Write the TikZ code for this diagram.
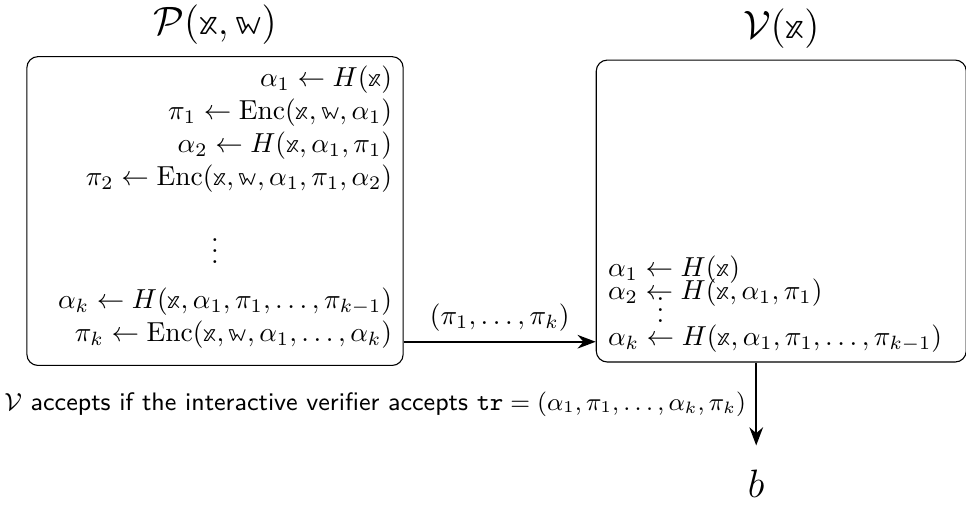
\documentclass[tikz,border=0pt]{standalone}
\usepackage{amsmath, amssymb}
\usepackage{fontspec}
\usepackage{tikz}
\usetikzlibrary{arrows.meta, positioning, calc}
\newfontface\dsface{latinmodern-math.otf}
\newcommand{\inst}{\mathord{\text{\dsface\char"1D569}}}
\newcommand{\wit}{\mathord{\text{\dsface\char"1D568}}}
\newcommand{\Enc}{\mathrm{Enc}}

\begin{document}
\begin{tikzpicture}[>=Stealth, node distance=1.0cm, box/.style={draw, rectangle, rounded corners=4pt, minimum width=4.81cm, minimum height=3.86cm}, flow/.style={->, thick}]
        \useasboundingbox (0,0) rectangle (12.35,-6.57);
        \node[box, text width=4.53cm, align=flush right, inner xsep=0.14cm] (prover) at (2.749,-2.698) {%
          $\alpha_1 \leftarrow H(\inst)$\\
          $\pi_1 \leftarrow \Enc(\inst, \wit, \alpha_1)$\\
          $\alpha_2 \leftarrow H(\inst, \alpha_1, \pi_1)$\\
          $\pi_2 \leftarrow \Enc(\inst, \wit, \alpha_1, \pi_1, \alpha_2)$\\[10pt]
          \hfill$\vdots$\hfill\null\\[4.2pt]
          $\alpha_k \leftarrow H(\inst, \alpha_1, \pi_1, \ldots, \pi_{k-1})$\\
          $\pi_k \leftarrow \Enc(\inst, \wit, \alpha_1, \ldots, \alpha_k)$\rule[-5.4pt]{0pt}{1pt}};
        \node[box, minimum width=4.73cm, right=2.455cm of prover] (verifier) {};
        \node[anchor=south west, inner sep=0pt, align=left] (vlines) at ($(verifier.south west)+(0.15,0.12)$) {%
          $\alpha_1 \leftarrow H(\inst)$\\[-3.6pt]
          $\alpha_2 \leftarrow H(\inst, \alpha_1, \pi_1)$\\[-3.6pt]
          $\phantom{\alpha_k}\mathrel{\smash{\ooalign{$\phantom{\leftarrow}$\cr\hfil$\vdots$\hfil\cr}}}$\\[-3.6pt]
          $\alpha_k \leftarrow H(\inst, \alpha_1, \pi_1, \ldots, \pi_{k-1})$};
        \node[above=0.14cm of prover, font=\Large, inner sep=0pt] (ptitle) {$\mathcal{P}(\inst, \wit)$};
        \node[above=0.14cm of verifier, font=\Large, inner sep=0pt] (vtitle) {$\mathcal{V}(\inst)$};
        \coordinate (send) at ($(prover.south east)+(0,0.31)$);
        \draw[flow] (send) -- node[above] {$(\pi_1, \ldots, \pi_k)$} (send -| verifier.west);
        \coordinate (vout) at ($(verifier.south)+(-0.32,0)$);
        \node[below=1.06cm of vout, font=\Large, outer sep=0.2cm] (b) {$b$};
        \draw[flow] (vout) -- node[left, font=\fontsize{9.2pt}{11pt}\selectfont] {$\mathcal{V}$ \textsf{accepts if the interactive verifier accepts} $\texttt{tr} = (\alpha_1, \pi_1, \ldots, \alpha_k, \pi_k)$} (b);
      \end{tikzpicture}
\end{document}
